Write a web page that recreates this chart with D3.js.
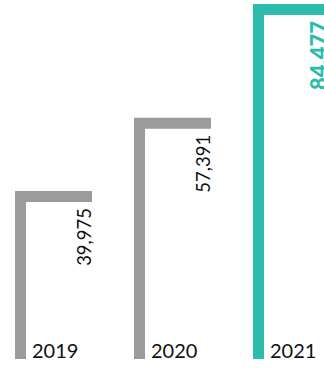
<!DOCTYPE html>
<html>
<head>
<meta charset="utf-8">
<script src="https://cdn.jsdelivr.net/npm/d3@7"></script>
<style>
  html, body { margin: 0; padding: 0; background: #fff; }
  svg { display: block; }
</style>
</head>
<body>
<svg id="chart" width="324" height="368"></svg>
<script>
// Yearly totals
const years = ["2019", "2020", "2021"];
const values = [39975, 57391, 84477];
const valueLabels = ["39,975", "57,391", "84,477"];
const highlightYear = "2021";

const svg = d3.select("#chart");
const thick = 11;   // stroke thickness of each bracket

const x = d3.scaleBand()
  .domain(years)
  .range([15, 330])
  .paddingInner(0.353)
  .paddingOuter(0);

const y = d3.scaleLinear()
  .domain([0, 84477])
  .range([359, 4]);

const gray = "#9b9b9b";
const teal = "#2dbbab";
const font = "Lato, 'Open Sans', sans-serif";

const data = years.map((yr, i) => ({ year: yr, value: values[i], label: valueLabels[i] }));
const isHi = d => d.year === highlightYear;

const g = svg.selectAll("g.bar").data(data).join("g").attr("class", "bar");

// Inverted-L bracket: vertical stem plus top arm across the band
g.append("path")
  .attr("fill", d => isHi(d) ? teal : gray)
  .attr("d", d => {
    const x0 = x(d.year), x1 = x0 + x.bandwidth();
    const yt = y(d.value), yb = y(0);
    return `M${x0},${yb} L${x0},${yt} L${x1},${yt} L${x1},${yt + thick} L${x0 + thick},${yt + thick} L${x0 + thick},${yb} Z`;
  });

// Value labels, rotated, hanging under the top arm
g.append("text")
  .attr("transform", d => `translate(${x(d.year) + x.bandwidth() - (isHi(d) ? 3 : 1)},${y(d.value) + thick + 6}) rotate(-90)`)
  .attr("text-anchor", "end")
  .attr("font-family", font)
  .attr("font-size", d => isHi(d) ? 22 : 18.5)
  .attr("font-weight", d => isHi(d) ? 900 : 400)
  .attr("fill", d => isHi(d) ? teal : "#111")
  .text(d => d.label);

// Year labels at the foot of each stem
g.append("text")
  .attr("x", d => x(d.year) + thick + 6)
  .attr("y", y(0) - 1)
  .attr("font-family", font)
  .attr("font-size", 20)
  .attr("font-weight", 400)
  .attr("fill", "#111")
  .text(d => d.year);
</script>
</body>
</html>
